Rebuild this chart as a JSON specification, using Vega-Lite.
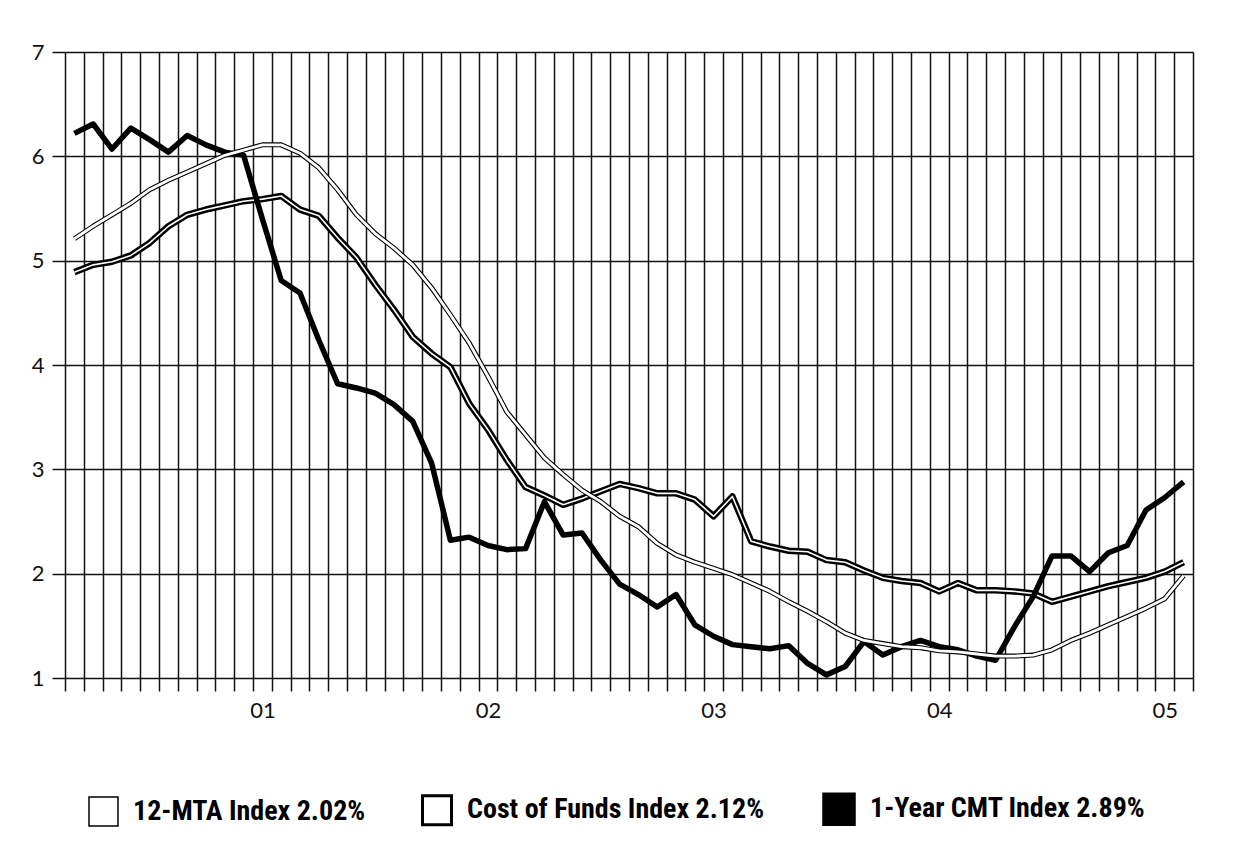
{
  "$schema": "https://vega.github.io/schema/vega-lite/v6.json",
  "width": 1128,
  "height": 626,
  "autosize": {"type": "none"},
  "padding": {"left": 65, "top": 52, "right": 55, "bottom": 169},
  "background": "white",
  "config": {"view": {"stroke": null}},
  "data": {"values": [
    {"m":0,"s":"MTA","v":5.21},{"m":1,"s":"MTA","v":5.33},{"m":2,"s":"MTA","v":5.44},{"m":3,"s":"MTA","v":5.55},{"m":4,"s":"MTA","v":5.68},{"m":5,"s":"MTA","v":5.77},{"m":6,"s":"MTA","v":5.85},{"m":7,"s":"MTA","v":5.93},{"m":8,"s":"MTA","v":6.01},{"m":9,"s":"MTA","v":6.06},
    {"m":10,"s":"MTA","v":6.11},{"m":11,"s":"MTA","v":6.11},{"m":12,"s":"MTA","v":6.03},{"m":13,"s":"MTA","v":5.89},{"m":14,"s":"MTA","v":5.68},{"m":15,"s":"MTA","v":5.44},{"m":16,"s":"MTA","v":5.26},{"m":17,"s":"MTA","v":5.12},{"m":18,"s":"MTA","v":4.96},{"m":19,"s":"MTA","v":4.74},
    {"m":20,"s":"MTA","v":4.48},{"m":21,"s":"MTA","v":4.21},{"m":22,"s":"MTA","v":3.89},{"m":23,"s":"MTA","v":3.55},{"m":24,"s":"MTA","v":3.33},{"m":25,"s":"MTA","v":3.11},{"m":26,"s":"MTA","v":2.95},{"m":27,"s":"MTA","v":2.80},{"m":28,"s":"MTA","v":2.69},{"m":29,"s":"MTA","v":2.55},
    {"m":30,"s":"MTA","v":2.45},{"m":31,"s":"MTA","v":2.29},{"m":32,"s":"MTA","v":2.18},{"m":33,"s":"MTA","v":2.11},{"m":34,"s":"MTA","v":2.05},{"m":35,"s":"MTA","v":1.99},{"m":36,"s":"MTA","v":1.91},{"m":37,"s":"MTA","v":1.83},{"m":38,"s":"MTA","v":1.73},{"m":39,"s":"MTA","v":1.64},
    {"m":40,"s":"MTA","v":1.54},{"m":41,"s":"MTA","v":1.43},{"m":42,"s":"MTA","v":1.36},{"m":43,"s":"MTA","v":1.33},{"m":44,"s":"MTA","v":1.30},{"m":45,"s":"MTA","v":1.29},{"m":46,"s":"MTA","v":1.26},{"m":47,"s":"MTA","v":1.25},{"m":48,"s":"MTA","v":1.23},{"m":49,"s":"MTA","v":1.21},
    {"m":50,"s":"MTA","v":1.21},{"m":51,"s":"MTA","v":1.22},{"m":52,"s":"MTA","v":1.27},{"m":53,"s":"MTA","v":1.36},{"m":54,"s":"MTA","v":1.43},{"m":55,"s":"MTA","v":1.51},{"m":56,"s":"MTA","v":1.59},{"m":57,"s":"MTA","v":1.67},{"m":58,"s":"MTA","v":1.76},{"m":59,"s":"MTA","v":1.98},
    {"m":0,"s":"COFI","v":4.89},{"m":1,"s":"COFI","v":4.96},{"m":2,"s":"COFI","v":4.99},{"m":3,"s":"COFI","v":5.05},{"m":4,"s":"COFI","v":5.17},{"m":5,"s":"COFI","v":5.33},{"m":6,"s":"COFI","v":5.44},{"m":7,"s":"COFI","v":5.49},{"m":8,"s":"COFI","v":5.53},{"m":9,"s":"COFI","v":5.57},
    {"m":10,"s":"COFI","v":5.59},{"m":11,"s":"COFI","v":5.62},{"m":12,"s":"COFI","v":5.49},{"m":13,"s":"COFI","v":5.43},{"m":14,"s":"COFI","v":5.22},{"m":15,"s":"COFI","v":5.03},{"m":16,"s":"COFI","v":4.77},{"m":17,"s":"COFI","v":4.53},{"m":18,"s":"COFI","v":4.27},{"m":19,"s":"COFI","v":4.11},
    {"m":20,"s":"COFI","v":3.98},{"m":21,"s":"COFI","v":3.63},{"m":22,"s":"COFI","v":3.38},{"m":23,"s":"COFI","v":3.09},{"m":24,"s":"COFI","v":2.83},{"m":25,"s":"COFI","v":2.75},{"m":26,"s":"COFI","v":2.66},{"m":27,"s":"COFI","v":2.72},{"m":28,"s":"COFI","v":2.79},{"m":29,"s":"COFI","v":2.86},
    {"m":30,"s":"COFI","v":2.82},{"m":31,"s":"COFI","v":2.77},{"m":32,"s":"COFI","v":2.77},{"m":33,"s":"COFI","v":2.71},{"m":34,"s":"COFI","v":2.55},{"m":35,"s":"COFI","v":2.74},{"m":36,"s":"COFI","v":2.31},{"m":37,"s":"COFI","v":2.26},{"m":38,"s":"COFI","v":2.22},{"m":39,"s":"COFI","v":2.21},
    {"m":40,"s":"COFI","v":2.13},{"m":41,"s":"COFI","v":2.11},{"m":42,"s":"COFI","v":2.03},{"m":43,"s":"COFI","v":1.96},{"m":44,"s":"COFI","v":1.93},{"m":45,"s":"COFI","v":1.91},{"m":46,"s":"COFI","v":1.83},{"m":47,"s":"COFI","v":1.91},{"m":48,"s":"COFI","v":1.84},{"m":49,"s":"COFI","v":1.84},
    {"m":50,"s":"COFI","v":1.83},{"m":51,"s":"COFI","v":1.81},{"m":52,"s":"COFI","v":1.73},{"m":53,"s":"COFI","v":1.78},{"m":54,"s":"COFI","v":1.83},{"m":55,"s":"COFI","v":1.88},{"m":56,"s":"COFI","v":1.92},{"m":57,"s":"COFI","v":1.96},{"m":58,"s":"COFI","v":2.02},{"m":59,"s":"COFI","v":2.11},
    {"m":0,"s":"CMT","v":6.22},{"m":1,"s":"CMT","v":6.31},{"m":2,"s":"CMT","v":6.07},{"m":3,"s":"CMT","v":6.27},{"m":4,"s":"CMT","v":6.16},{"m":5,"s":"CMT","v":6.04},{"m":6,"s":"CMT","v":6.20},{"m":7,"s":"CMT","v":6.11},{"m":8,"s":"CMT","v":6.04},{"m":9,"s":"CMT","v":6.01},
    {"m":10,"s":"CMT","v":5.40},{"m":11,"s":"CMT","v":4.81},{"m":12,"s":"CMT","v":4.69},{"m":13,"s":"CMT","v":4.24},{"m":14,"s":"CMT","v":3.82},{"m":15,"s":"CMT","v":3.78},{"m":16,"s":"CMT","v":3.73},{"m":17,"s":"CMT","v":3.62},{"m":18,"s":"CMT","v":3.46},{"m":19,"s":"CMT","v":3.06},
    {"m":20,"s":"CMT","v":2.32},{"m":21,"s":"CMT","v":2.35},{"m":22,"s":"CMT","v":2.27},{"m":23,"s":"CMT","v":2.23},{"m":24,"s":"CMT","v":2.24},{"m":25,"s":"CMT","v":2.69},{"m":26,"s":"CMT","v":2.37},{"m":27,"s":"CMT","v":2.39},{"m":28,"s":"CMT","v":2.13},{"m":29,"s":"CMT","v":1.90},
    {"m":30,"s":"CMT","v":1.80},{"m":31,"s":"CMT","v":1.68},{"m":32,"s":"CMT","v":1.80},{"m":33,"s":"CMT","v":1.51},{"m":34,"s":"CMT","v":1.40},{"m":35,"s":"CMT","v":1.32},{"m":36,"s":"CMT","v":1.30},{"m":37,"s":"CMT","v":1.28},{"m":38,"s":"CMT","v":1.31},{"m":39,"s":"CMT","v":1.14},
    {"m":40,"s":"CMT","v":1.03},{"m":41,"s":"CMT","v":1.11},{"m":42,"s":"CMT","v":1.35},{"m":43,"s":"CMT","v":1.22},{"m":44,"s":"CMT","v":1.30},{"m":45,"s":"CMT","v":1.36},{"m":46,"s":"CMT","v":1.30},{"m":47,"s":"CMT","v":1.27},{"m":48,"s":"CMT","v":1.21},{"m":49,"s":"CMT","v":1.17},
    {"m":50,"s":"CMT","v":1.49},{"m":51,"s":"CMT","v":1.78},{"m":52,"s":"CMT","v":2.17},{"m":53,"s":"CMT","v":2.17},{"m":54,"s":"CMT","v":2.02},{"m":55,"s":"CMT","v":2.20},{"m":56,"s":"CMT","v":2.27},{"m":57,"s":"CMT","v":2.61},{"m":58,"s":"CMT","v":2.73},{"m":59,"s":"CMT","v":2.88}
  ]},
  "encoding": {
    "x": {
      "field": "m", "type": "quantitative",
      "scale": {"domain": [-0.5, 59.5], "nice": false, "zero": false},
      "axis": {
        "title": null,
        "values": [-0.5,0.5,1.5,2.5,3.5,4.5,5.5,6.5,7.5,8.5,9.5,10.5,11.5,12.5,13.5,14.5,15.5,16.5,17.5,18.5,19.5,20.5,21.5,22.5,23.5,24.5,25.5,26.5,27.5,28.5,29.5,30.5,31.5,32.5,33.5,34.5,35.5,36.5,37.5,38.5,39.5,40.5,41.5,42.5,43.5,44.5,45.5,46.5,47.5,48.5,49.5,50.5,51.5,52.5,53.5,54.5,55.5,56.5,57.5,58.5,59.5,10,22,34,46,58],
        "domain": false,
        "grid": true,
        "gridColor": "#111111",
        "gridWidth": 1.5,
        "gridOpacity": {"condition": {"test": "datum.value % 1 == 0", "value": 0}, "value": 1},
        "ticks": true,
        "tickSize": 13,
        "tickColor": "#111111",
        "tickWidth": 1.5,
        "tickOpacity": {"condition": {"test": "datum.value % 1 == 0", "value": 0}, "value": 1},
        "labelExpr": "datum.value == 10 ? '01' : datum.value == 22 ? '02' : datum.value == 34 ? '03' : datum.value == 46 ? '04' : datum.value == 58 ? '05' : ''",
        "labelOverlap": false,
        "labelFlush": false,
        "labelPadding": 9,
        "labelFont": "Lato",
        "labelFontSize": 22,
        "labelColor": "#111111"
      }
    },
    "y": {
      "field": "v", "type": "quantitative",
      "scale": {"domain": [1, 7], "nice": false, "zero": false},
      "axis": {
        "title": null,
        "values": [1,2,3,4,5,6,7],
        "domain": false,
        "grid": true,
        "gridColor": "#111111",
        "gridWidth": 1.5,
        "ticks": true,
        "tickSize": 13,
        "tickColor": "#111111",
        "tickWidth": 1.5,
        "labelPadding": 8,
        "labelFont": "Lato",
        "labelFontSize": 22,
        "labelColor": "#111111"
      }
    }
  },
  "layer": [
    {"transform": [{"filter": "datum.s == 'COFI'"}], "mark": {"type": "line", "color": "black", "strokeWidth": 6.5, "strokeJoin": "round"}},
    {"transform": [{"filter": "datum.s == 'COFI'"}], "mark": {"type": "line", "color": "white", "strokeWidth": 1.6, "strokeJoin": "round"}},
    {"transform": [{"filter": "datum.s == 'CMT'"}], "mark": {"type": "line", "color": "black", "strokeWidth": 5.5, "strokeJoin": "round"}},
    {"transform": [{"filter": "datum.s == 'MTA'"}], "mark": {"type": "line", "color": "black", "strokeWidth": 5, "strokeJoin": "round"}},
    {"transform": [{"filter": "datum.s == 'MTA'"}], "mark": {"type": "line", "color": "white", "strokeWidth": 2.8, "strokeJoin": "round"}},
    {
      "mark": {"type": "square", "size": 0, "filled": true, "opacity": 1},
      "encoding": {
        "strokeWidth": {
          "field": "s", "type": "nominal",
          "scale": {"domain": ["MTA", "COFI", "CMT"], "range": [1.5, 4.5, 1.5]},
          "legend": {"title": null}
        },
        "color": {
          "field": "s", "type": "nominal",
          "scale": {"domain": ["MTA", "COFI", "CMT"], "range": ["white", "white", "black"]},
          "legend": {
            "orient": "none",
            "legendX": 23,
            "legendY": 740,
            "direction": "horizontal",
            "title": null,
            "symbolType": "square",
            "symbolSize": 841,
            "symbolStrokeColor": "black",
            "labelFont": "Roboto Condensed, Liberation Sans, sans-serif",
            "labelFontSize": 28,
            "labelFontWeight": "bold",
            "labelColor": "black",
            "labelLimit": 0,
            "labelOffset": 14,
            "columnPadding": 50,
            "labelExpr": "datum.value == 'MTA' ? '12-MTA Index 2.02%' : datum.value == 'COFI' ? 'Cost of Funds Index 2.12%' : '1-Year CMT Index 2.89%'",
            "encode": {
              "symbols": {
                "update": {
                  "stroke": {"value": "black"},
                  "opacity": {"value": 1}
                }
              }
            }
          }
        }
      }
    }
  ]
}
